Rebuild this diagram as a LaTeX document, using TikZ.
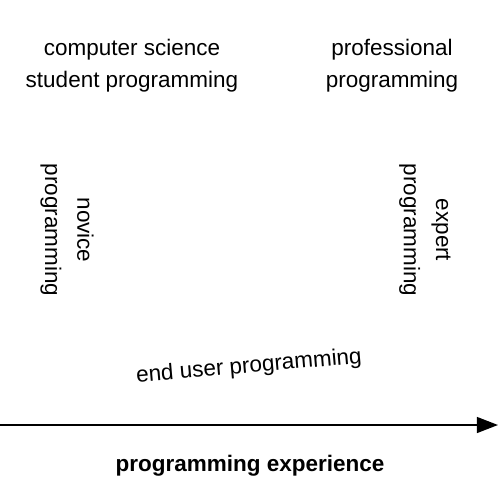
\documentclass[tikz,border=0pt]{standalone}
\usepackage{fontspec}
\setmainfont{Liberation Sans}
\usetikzlibrary{arrows.meta}

\begin{document}
\begin{tikzpicture}[x=0.02cm,y=-0.02cm,
    lbl/.style={align=center,font=\fontsize{12.8}{18.3}\selectfont,inner sep=0pt}]
    \useasboundingbox (0,0) rectangle (500,500);
    \node[lbl] (cs) at (132,66) {computer science\\student programming};
    \node[lbl] (prof) at (392,66) {professional\\programming};
    \node[lbl,rotate=-90] (novice) at (67,230) {novice\\programming};
    \node[lbl,rotate=-90] (expert) at (425,230) {expert\\programming};
    \node[lbl,rotate=5] (enduser) at (249,367) {end user programming};
    \coordinate (left) at (0,425);
    \coordinate (right) at (498,425);
    \draw[line width=1.1pt,-{Triangle[length=12pt,width=9pt]}] (left) -- (right);
    \node[lbl,font=\fontsize{12.8}{18}\selectfont\bfseries] (axis) at (250,466) {programming experience};
\end{tikzpicture}
\end{document}
